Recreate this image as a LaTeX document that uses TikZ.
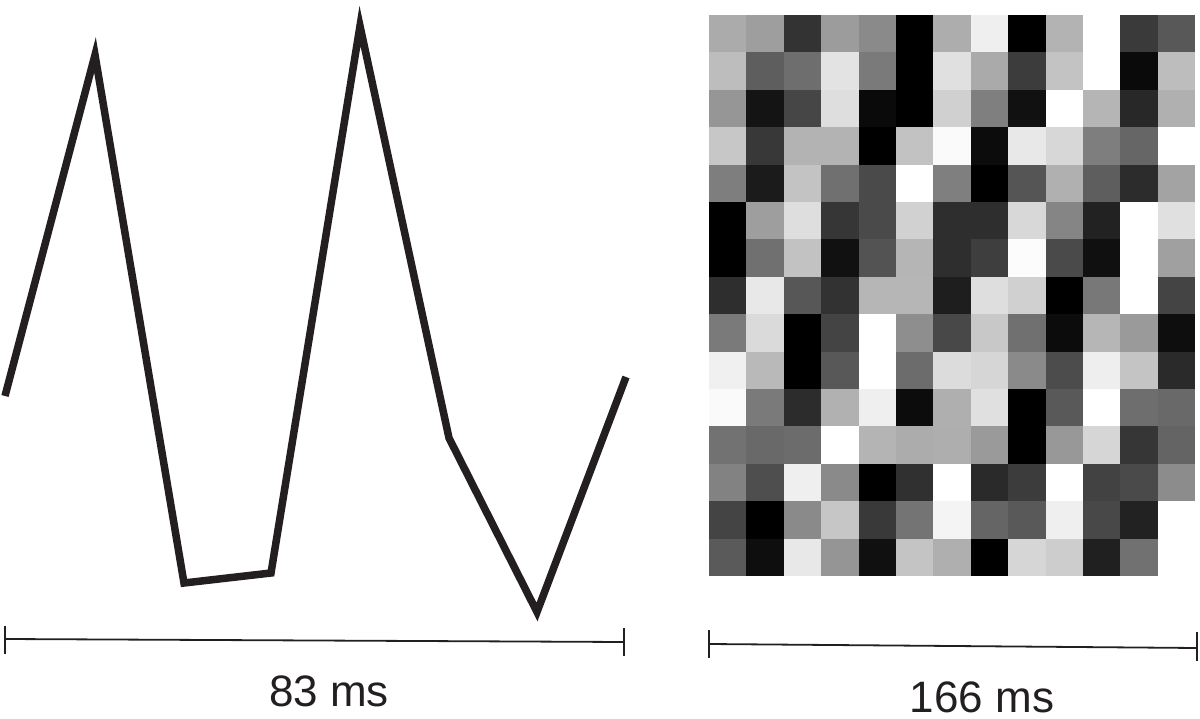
\documentclass[tikz,border=0pt]{standalone}
\usepackage{fontspec}
\setmainfont{Liberation Sans}
\definecolor{ink}{RGB}{35,31,32}
\begin{document}
\begin{tikzpicture}[x=1pt,y=-1pt,
  wave/.style={draw=ink,line width=7.5pt,line join=miter,miter limit=10},
  bar/.style={draw=ink,line width=1.8pt},
  tick/.style={draw=ink,line width=2.4pt},
  lbl/.style={font=\fontsize{44}{50}\selectfont,text=ink,anchor=base,inner sep=0pt}]
\useasboundingbox (0,0) rectangle (1200,719);
% waveform
\coordinate (w0) at (5,396);
\coordinate (w1) at (95,55);
\coordinate (w2) at (184,583);
\coordinate (w3) at (271,573);
\coordinate (w4) at (360,26);
\coordinate (w5) at (449,438);
\coordinate (w6) at (537,612);
\coordinate (w7) at (626,377);
\draw[wave] (w0) -- (w1) -- (w2) -- (w3) -- (w4) -- (w5) -- (w6) -- (w7);
% noise grid
\foreach \row [count=\r from 0] in {
 {171,158,51,156,138,0,173,239,0,179,255,58,88},
 {189,94,110,227,122,0,224,170,60,195,255,10,189},
 {150,20,70,222,10,0,208,127,17,255,181,40,176},
 {199,56,179,179,0,194,250,12,232,215,126,102,255},
 {126,27,195,112,74,255,127,0,85,176,94,44,163},
 {0,158,222,54,74,209,46,46,216,133,34,255,224},
 {0,112,194,17,83,181,46,62,252,74,16,255,160},
 {46,232,87,50,182,182,30,222,208,0,120,255,68},
 {122,218,0,68,255,142,72,200,112,12,182,154,14},
 {240,185,0,88,255,108,220,214,138,76,238,196,42},
 {250,122,44,177,239,12,175,224,0,89,255,110,105},
 {114,105,108,255,180,172,174,154,0,152,214,54,100},
 {130,78,239,138,0,48,255,42,60,255,66,74,140},
 {68,0,138,198,57,116,244,101,89,239,72,34,255},
 {90,14,232,149,16,196,175,0,214,205,32,113,255}} {
  \foreach \v [count=\c from 0] in \row {
    \definecolor{cellc}{RGB}{\v,\v,\v}
    \fill[cellc] (709+\c*37.4,15+\r*37.4) rectangle ++(37.6,37.6);
  }
}
% scale bar left
\coordinate (a1) at (5,639);
\coordinate (a2) at (624,642);
\draw[bar] (a1) -- (a2);
\draw[tick] (5,626) -- (5,654);
\draw[tick] (624,628) -- (624,656);
\node[lbl] (l1) at (329,706) {83 ms};
% scale bar right
\coordinate (b1) at (709,644);
\coordinate (b2) at (1197,648);
\draw[bar] (b1) -- (b2);
\draw[tick] (709,630) -- (709,658);
\draw[tick] (1197,632) -- (1197,661);
\node[lbl] (l2) at (982,712) {166 ms};
\end{tikzpicture}
\end{document}
